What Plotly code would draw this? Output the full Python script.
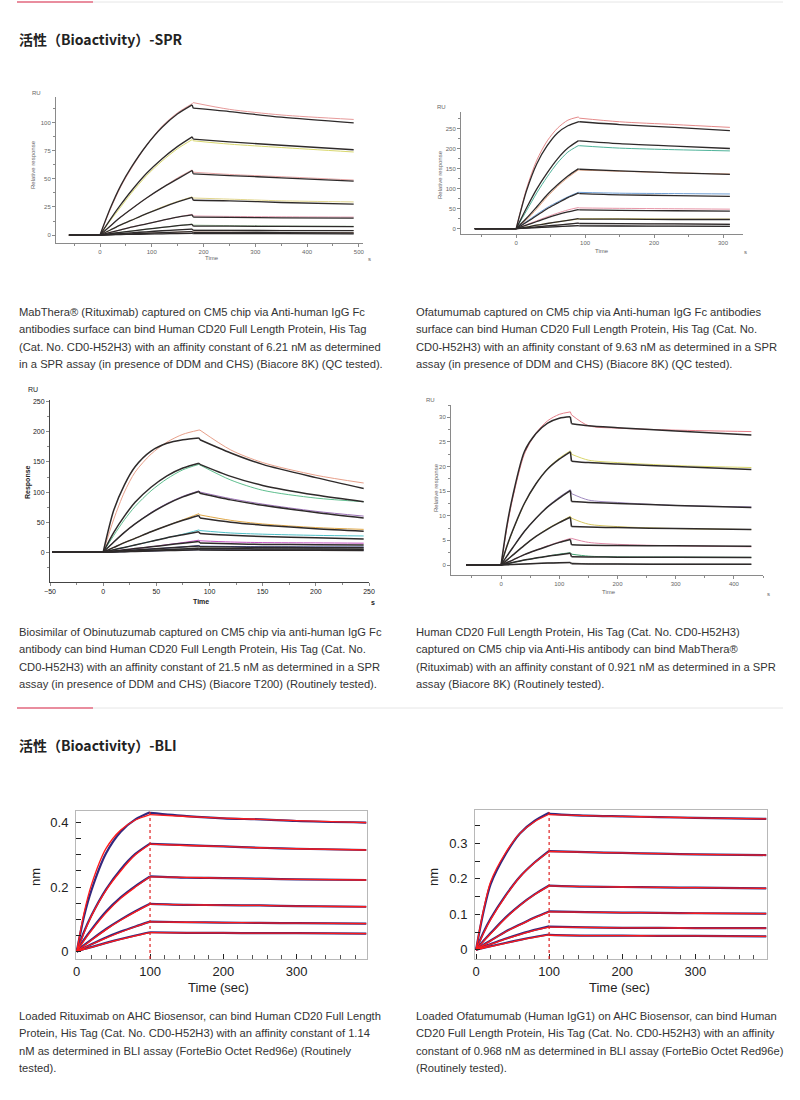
import plotly.graph_objects as go

# ---------------- DATA ----------------
# Panel 1: SPR, MabThera (Rituximab) / CD20 (RU vs s)
P1_BASE_T = [-60, 0]
P1_ASSOC_T = [0, 20, 40, 60, 90, 120, 150, 178]
P1_DISSOC_T = [180, 250, 350, 490]
P1_FIT_ASSOC = [
    [0, 24, 44, 60, 80, 96, 108, 116],
    [0, 14, 27, 39, 55, 68, 79, 87.5],
    [0, 8, 16, 23, 33, 42, 50, 57.5],
    [0, 4.5, 9, 13, 19, 24.5, 29.5, 33.5],
    [0, 2.3, 4.6, 7, 10, 13, 16, 18],
    [0, 1.2, 2.4, 3.5, 5.2, 6.8, 8.3, 9.5],
    [0, 0.6, 1.3, 2, 2.9, 3.8, 4.6, 5.3],
    [0, 0.35, 0.7, 1.1, 1.6, 2.1, 2.6, 3],
    [0, 0.2, 0.4, 0.6, 0.8, 1.1, 1.3, 1.5],
]
P1_FIT_DISSOC = [
    [113, 110, 105, 100],
    [85.5, 83, 80, 76],
    [54.5, 53, 51, 48],
    [31, 30.5, 29, 27.5],
    [16, 15.8, 15.3, 15],
    [8, 7.9, 7.7, 7.5],
    [4.2, 4.1, 4, 3.9],
    [2.4, 2.3, 2.2, 2],
    [1.3, 1.25, 1.2, 1.1],
]
P1_DATA_ASSOC = [
    [0, 23, 43, 59, 80, 97, 109, 117],
    [0, 13, 25, 37, 53, 66, 77, 85],
    [0, 8, 16, 23, 33, 42, 51, 58],
    [0, 4.5, 9, 13, 19, 25, 30, 34],
    [0, 2.3, 4.6, 7, 10, 13, 16, 18.5],
    [0, 1.2, 2.4, 3.5, 5.2, 6.8, 8.3, 9.8],
    [0, 0.6, 1.3, 2, 2.9, 3.8, 4.6, 5.5],
    [0, 0.35, 0.7, 1.1, 1.6, 2.1, 2.6, 3.2],
    [0, 0.2, 0.4, 0.6, 0.8, 1.1, 1.3, 1.6],
]
P1_DATA_DISSOC = [
    [118, 112, 107, 103],
    [84, 81, 78, 74],
    [56, 54, 52, 49],
    [33, 32, 30.5, 29.5],
    [17, 16.6, 16.3, 16],
    [8.8, 8.4, 8, 7.8],
    [4.6, 4.4, 4.2, 4.1],
    [2.7, 2.5, 2.3, 2.2],
    [1.4, 1.3, 1.25, 1.2],
]
P1_DATA_COLORS = ["#e79a9a", "#d9d86e", "#e6a5a5", "#e2d68c", "#e6a0b4",
                  "#9cc49c", "#c8c8c8", "#d6b09c", "#b4b4b4"]

# Panel 2: SPR, Ofatumumab / CD20
P2_BASE_T = [-60, 0]
P2_ASSOC_T = [0, 15, 30, 45, 60, 75, 90]
P2_DISSOC_T = [92, 150, 230, 310]
P2_FIT_ASSOC = [
    [0, 95, 163, 208, 240, 258, 268],
    [0, 52, 100, 140, 175, 202, 220],
    [0, 26, 55, 85, 110, 132, 150],
    [0, 16, 33, 50, 64, 78, 89],
    [0, 9, 18, 27, 35, 42, 48],
    [0, 4, 9, 13, 17, 21, 25],
    [0, 2.3, 4.5, 7, 9, 11.5, 14],
    [0, 1.2, 2.5, 3.7, 5, 6.2, 7.5],
]
P2_FIT_DISSOC = [
    [268, 261, 254, 246],
    [220, 213, 207, 201],
    [149, 145, 140, 136],
    [88, 85, 83, 81],
    [47, 46, 45, 44],
    [24, 24, 23, 23],
    [13, 12.5, 12, 11],
    [7, 6.7, 6.3, 6],
]
P2_DATA_ASSOC = [
    [0, 100, 172, 220, 252, 272, 280],
    [0, 45, 90, 130, 165, 192, 208],
    [0, 22, 50, 80, 106, 128, 147],
    [0, 18, 36, 53, 67, 80, 91],
    [0, 10, 20, 30, 39, 47, 53],
    [0, 4, 9, 13, 17, 21, 24],
    [0, 2.3, 4.5, 7, 9, 11.5, 14],
    [0, 1.2, 2.5, 3.7, 5, 6.2, 7.5],
]
P2_DATA_DISSOC = [
    [277, 268, 261, 254],
    [208, 202, 198, 195],
    [147, 144, 140, 137],
    [91, 89, 88, 87],
    [52, 51, 50, 49],
    [25, 25, 24, 24],
    [13, 12.5, 12, 11.5],
    [7, 6.7, 6.4, 6.2],
]
P2_DATA_COLORS = ["#e58a8a", "#4fb39a", "#e6a582", "#6f9fd6", "#e896a8",
                  "#dfd06a", "#b0a0a0", "#a0a0a0"]

# Panel 3: SPR, Biosimilar of Obinutuzumab / CD20 (Biacore T200)
P3_BASE_T = [-48, 0]
P3_ASSOC_T = [0, 10, 20, 30, 45, 60, 75, 90]
P3_DISSOC_T = [91, 120, 150, 200, 245]
P3_FIT_ASSOC = [
    [0, 70, 112, 142, 168, 181, 187, 190],
    [0, 33, 60, 83, 108, 127, 140, 148],
    [0, 17, 33, 47, 65, 80, 92, 101],
    [0, 8, 16, 23, 34, 44, 53, 61],
    [0, 4, 8, 12, 18, 24, 29, 34],
    [0, 2, 4, 6, 9, 12, 15, 17.7],
    [0, 1.2, 2.4, 3.5, 5.2, 7, 8.8, 10.5],
    [0, 0.7, 1.4, 2.1, 3.2, 4.3, 5.5, 6.6],
    [0, 0.4, 0.9, 1.3, 2, 2.7, 3.3, 4],
]
P3_FIT_DISSOC = [
    [187, 165, 146, 124, 106],
    [146, 126, 111, 95, 84],
    [98, 87, 78, 66, 57],
    [57, 50, 45, 39, 35],
    [31, 28, 26, 24, 22],
    [15.5, 14, 13, 12.5, 12],
    [9, 8.5, 8.2, 8, 7.7],
    [6, 5.7, 5.5, 5.2, 5],
    [3.6, 3.4, 3.2, 3.1, 3],
]
P3_DATA_ASSOC = [
    [0, 55, 100, 133, 163, 183, 196, 203],
    [0, 28, 54, 76, 102, 122, 137, 146],
    [0, 17, 33, 47, 66, 81, 93, 102],
    [0, 8, 16, 23, 34, 44, 54, 64],
    [0, 4, 8, 12, 18, 24, 30, 37],
    [0, 2, 4, 6, 9, 12.5, 16, 20],
    [0, 1.2, 2.4, 3.5, 5.2, 7, 8.8, 11],
    [0, 0.7, 1.4, 2.1, 3.2, 4.3, 5.5, 7],
    [0, 0.4, 0.9, 1.3, 2, 2.7, 3.3, 4.2],
]
P3_DATA_DISSOC = [
    [203, 170, 149, 128, 115],
    [145, 120, 103, 90, 84],
    [100, 89, 80, 68, 60],
    [62, 53, 47, 41, 38],
    [36, 32, 30, 28, 27],
    [19, 17, 16, 15.5, 15],
    [10, 9.5, 9, 8.7, 8.5],
    [6.5, 6.2, 6, 5.8, 5.6],
    [4, 3.8, 3.6, 3.5, 3.4],
]
P3_DATA_COLORS = ["#e8a08a", "#5fbf8f", "#9a6fb5", "#e0a848", "#4fc0c8",
                  "#c050c0", "#4050c0", "#808890", "#303880"]

# Panel 4: SPR, CD20 His captured, MabThera (Rituximab) binding
P4_BASE_T = [-60, 0]
P4_ASSOC_T = [0, 10, 20, 40, 60, 80, 100, 119]
P4_DISSOC_T = [121, 150, 200, 300, 430]
P4_FIT_ASSOC = [
    [0, 8, 14, 23, 26.7, 28.8, 29.8, 30.1],
    [0, 3.8, 7, 12.5, 16.5, 19.5, 21.5, 23],
    [0, 1.8, 3.5, 6.8, 9.5, 11.8, 13.6, 15.1],
    [0, 1, 2, 4, 5.8, 7.3, 8.6, 9.7],
    [0, 0.5, 1, 2.1, 3, 3.8, 4.6, 5.2],
    [0, 0.25, 0.5, 1, 1.4, 1.8, 2.1, 2.4],
    [0, 0.05, 0.1, 0.2, 0.3, 0.4, 0.45, 0.5],
]
P4_FIT_DISSOC = [
    [28.7, 28.3, 27.9, 27.2, 26.4],
    [21.1, 20.8, 20.5, 20, 19.4],
    [12.9, 12.7, 12.5, 12.1, 11.7],
    [7.8, 7.7, 7.6, 7.4, 7.2],
    [4.1, 4.0, 3.95, 3.9, 3.8],
    [1.7, 1.65, 1.6, 1.55, 1.5],
    [0.25, 0.2, 0.18, 0.15, 0.15],
]
P4_DATA_ASSOC = [
    [0, 7.5, 13.5, 22.5, 26.8, 29.3, 30.6, 31.1],
    [0, 3.7, 6.9, 12.4, 16.5, 19.6, 21.7, 23.2],
    [0, 1.8, 3.5, 6.8, 9.5, 11.9, 13.8, 15.3],
    [0, 1, 2, 4, 5.8, 7.4, 8.7, 9.9],
    [0, 0.5, 1, 2.1, 3, 3.9, 4.7, 5.4],
    [0, 0.25, 0.5, 1, 1.4, 1.8, 2.2, 2.5],
    [0, 0.05, 0.1, 0.2, 0.3, 0.4, 0.45, 0.5],
]
P4_DATA_DISSOC = [
    [30.5, 28.3, 27.8, 27.4, 27.1],
    [22.5, 21.3, 20.8, 20.2, 19.8],
    [14.5, 13.2, 12.7, 12.1, 11.8],
    [9.5, 8.3, 7.8, 7.4, 7.2],
    [5.4, 4.6, 4.2, 3.9, 3.7],
    [2.2, 1.8, 1.65, 1.6, 1.55],
    [0.4, 0.25, 0.2, 0.18, 0.15],
]
P4_DATA_COLORS = ["#e67f8a", "#d9d66a", "#a08ac0", "#d8c860", "#e08aa8",
                  "#3f9f6f", "#808080"]

# Panel 5: BLI, Rituximab on AHC / CD20 (nm vs sec)
P5_ASSOC_T = [0, 10, 20, 40, 60, 80, 100]
P5_DISSOC_T = [100, 150, 200, 250, 300, 395]
P5_FIT_ASSOC = [
    [0, 0.12, 0.207, 0.32, 0.377, 0.408, 0.425],
    [0, 0.058, 0.11, 0.19, 0.25, 0.30, 0.333],
    [0, 0.034, 0.065, 0.12, 0.165, 0.20, 0.232],
    [0, 0.018, 0.035, 0.068, 0.097, 0.123, 0.147],
    [0, 0.011, 0.022, 0.042, 0.06, 0.077, 0.092],
    [0, 0.007, 0.013, 0.026, 0.038, 0.049, 0.059],
]
P5_FIT_DISSOC = [
    [0.425, 0.419, 0.414, 0.410, 0.406, 0.400],
    [0.333, 0.329, 0.326, 0.322, 0.319, 0.315],
    [0.232, 0.230, 0.228, 0.226, 0.224, 0.222],
    [0.147, 0.145, 0.144, 0.143, 0.141, 0.139],
    [0.092, 0.091, 0.090, 0.089, 0.088, 0.087],
    [0.059, 0.058, 0.058, 0.057, 0.057, 0.056],
]
P5_DATA_ASSOC = [
    [0, 0.11, 0.19, 0.305, 0.372, 0.41, 0.432],
    [0, 0.062, 0.112, 0.193, 0.255, 0.303, 0.335],
    [0, 0.037, 0.068, 0.124, 0.168, 0.203, 0.233],
    [0, 0.02, 0.037, 0.07, 0.099, 0.125, 0.148],
    [0, 0.012, 0.023, 0.044, 0.062, 0.078, 0.093],
    [0, 0.008, 0.014, 0.027, 0.039, 0.05, 0.06],
]
P5_DATA_DISSOC = [
    [0.43, 0.42, 0.413, 0.41, 0.405, 0.40],
    [0.334, 0.330, 0.326, 0.322, 0.319, 0.315],
    [0.233, 0.229, 0.228, 0.226, 0.224, 0.222],
    [0.148, 0.145, 0.144, 0.143, 0.141, 0.139],
    [0.093, 0.091, 0.090, 0.089, 0.088, 0.087],
    [0.06, 0.058, 0.058, 0.057, 0.057, 0.056],
]

# Panel 6: BLI, Ofatumumab on AHC / CD20
P6_ASSOC_T = [0, 10, 20, 40, 60, 80, 100]
P6_DISSOC_T = [100, 150, 200, 250, 300, 397]
P6_FIT_ASSOC = [
    [0, 0.11, 0.192, 0.272, 0.328, 0.361, 0.382],
    [0, 0.045, 0.085, 0.15, 0.205, 0.245, 0.277],
    [0, 0.023, 0.045, 0.088, 0.125, 0.155, 0.18],
    [0, 0.013, 0.025, 0.05, 0.07, 0.09, 0.107],
    [0, 0.008, 0.015, 0.03, 0.043, 0.055, 0.064],
    [0, 0.005, 0.009, 0.018, 0.027, 0.035, 0.042],
]
P6_FIT_DISSOC = [
    [0.381, 0.378, 0.376, 0.374, 0.372, 0.369],
    [0.277, 0.275, 0.273, 0.271, 0.269, 0.267],
    [0.18, 0.178, 0.177, 0.176, 0.175, 0.173],
    [0.107, 0.106, 0.105, 0.104, 0.103, 0.102],
    [0.064, 0.063, 0.062, 0.062, 0.061, 0.061],
    [0.041, 0.040, 0.040, 0.039, 0.039, 0.038],
]
P6_DATA_ASSOC = [
    [0, 0.105, 0.185, 0.268, 0.328, 0.363, 0.386],
    [0, 0.048, 0.088, 0.152, 0.206, 0.246, 0.279],
    [0, 0.025, 0.047, 0.09, 0.126, 0.156, 0.181],
    [0, 0.014, 0.026, 0.051, 0.071, 0.091, 0.108],
    [0, 0.009, 0.016, 0.031, 0.044, 0.056, 0.066],
    [0, 0.005, 0.01, 0.019, 0.028, 0.036, 0.043],
]
P6_DATA_DISSOC = [
    [0.383, 0.378, 0.376, 0.374, 0.372, 0.369],
    [0.278, 0.275, 0.273, 0.271, 0.269, 0.267],
    [0.181, 0.178, 0.177, 0.176, 0.175, 0.173],
    [0.108, 0.106, 0.105, 0.104, 0.103, 0.102],
    [0.065, 0.063, 0.062, 0.062, 0.061, 0.061],
    [0.042, 0.040, 0.040, 0.039, 0.039, 0.038],
]

TITLE_SPR = "活性（Bioactivity）-SPR"
TITLE_BLI = "活性（Bioactivity）-BLI"

CAPTIONS = {
    "p1": ["MabThera® (Rituximab) captured on CM5 chip via Anti-human IgG Fc",
           "antibodies surface can bind Human CD20 Full Length Protein, His Tag",
           "(Cat. No. CD0-H52H3) with an affinity constant of 6.21 nM as determined",
           "in a SPR assay (in presence of DDM and CHS) (Biacore 8K) (QC tested)."],
    "p2": ["Ofatumumab captured on CM5 chip via Anti-human IgG Fc antibodies",
           "surface can bind Human CD20 Full Length Protein, His Tag (Cat. No.",
           "CD0-H52H3) with an affinity constant of 9.63 nM as determined in a SPR",
           "assay (in presence of DDM and CHS) (Biacore 8K) (QC tested)."],
    "p3": ["Biosimilar of Obinutuzumab captured on CM5 chip via anti-human IgG Fc",
           "antibody can bind Human CD20 Full Length Protein, His Tag (Cat. No.",
           "CD0-H52H3) with an affinity constant of 21.5 nM as determined in a SPR",
           "assay (in presence of DDM and CHS) (Biacore T200) (Routinely tested)."],
    "p4": ["Human CD20 Full Length Protein, His Tag (Cat. No. CD0-H52H3)",
           "captured on CM5 chip via Anti-His antibody can bind MabThera®",
           "(Rituximab) with an affinity constant of 0.921 nM as determined in a SPR",
           "assay (Biacore 8K) (Routinely tested)."],
    "p5": ["Loaded Rituximab on AHC Biosensor, can bind Human CD20 Full Length",
           "Protein, His Tag (Cat. No. CD0-H52H3) with an affinity constant of 1.14",
           "nM as determined in BLI assay (ForteBio Octet Red96e) (Routinely",
           "tested)."],
    "p6": ["Loaded Ofatumumab (Human IgG1) on AHC Biosensor, can bind Human",
           "CD20 Full Length Protein, His Tag (Cat. No. CD0-H52H3) with an affinity",
           "constant of 0.968 nM as determined in BLI assay (ForteBio Octet Red96e)",
           "(Routinely tested)."],
}

# ---------------- LAYOUT HELPERS ----------------
W, H = 800, 1100


def px(x):
    return x / W


def py(y):
    return 1 - y / H


fig = go.Figure()


def seg_xy(segments_t, segments_v):
    xs, ys = [], []
    for i, (t, v) in enumerate(zip(segments_t, segments_v)):
        if i > 0:
            xs.append(None)
            ys.append(None)
        xs += list(t)
        ys += list(v)
    return xs, ys


def add_curve(xa, ya, base_t, assoc_t, dissoc_t, a, d, color, width):
    # association and dissociation phases: smooth
    xs, ys = seg_xy([assoc_t, dissoc_t], [a, d])
    fig.add_trace(go.Scatter(x=xs, y=ys, mode="lines", xaxis=xa, yaxis=ya,
                             line=dict(color=color, width=width, shape="spline", smoothing=0.8),
                             hoverinfo="skip"))
    # baseline and the jump at the start of dissociation: straight
    segs_t, segs_v = [], []
    if base_t is not None:
        segs_t.append(base_t)
        segs_v.append([a[0], a[0]])
    segs_t.append([assoc_t[-1], dissoc_t[0]])
    segs_v.append([a[-1], d[0]])
    xs, ys = seg_xy(segs_t, segs_v)
    fig.add_trace(go.Scatter(x=xs, y=ys, mode="lines", xaxis=xa, yaxis=ya,
                             line=dict(color=color, width=width), hoverinfo="skip"))


def add_spr(idx, base_t, assoc_t, dissoc_t, fit_a, fit_d, dat_a, dat_d, colors, fitw=1.3):
    xa = "x" if idx == 1 else f"x{idx}"
    ya = "y" if idx == 1 else f"y{idx}"
    for a, d, c in zip(dat_a, dat_d, colors):
        add_curve(xa, ya, base_t, assoc_t, dissoc_t, a, d, c, 1)
    for a, d in zip(fit_a, fit_d):
        add_curve(xa, ya, base_t, assoc_t, dissoc_t, a, d, "#2e2a2a", fitw)


def add_bli(idx, assoc_t, dissoc_t, fit_a, fit_d, dat_a, dat_d):
    xa, ya = f"x{idx}", f"y{idx}"
    for a, d in zip(dat_a, dat_d):
        add_curve(xa, ya, None, assoc_t, dissoc_t, a, d, "#33287e", 2.2)
    for a, d in zip(fit_a, fit_d):
        add_curve(xa, ya, None, assoc_t, dissoc_t, a, d, "#ff1a1a", 1.3)


add_spr(1, P1_BASE_T, P1_ASSOC_T, P1_DISSOC_T, P1_FIT_ASSOC, P1_FIT_DISSOC,
        P1_DATA_ASSOC, P1_DATA_DISSOC, P1_DATA_COLORS)
add_spr(2, P2_BASE_T, P2_ASSOC_T, P2_DISSOC_T, P2_FIT_ASSOC, P2_FIT_DISSOC,
        P2_DATA_ASSOC, P2_DATA_DISSOC, P2_DATA_COLORS)
add_spr(3, P3_BASE_T, P3_ASSOC_T, P3_DISSOC_T, P3_FIT_ASSOC, P3_FIT_DISSOC,
        P3_DATA_ASSOC, P3_DATA_DISSOC, P3_DATA_COLORS, fitw=1.5)
add_spr(4, P4_BASE_T, P4_ASSOC_T, P4_DISSOC_T, P4_FIT_ASSOC, P4_FIT_DISSOC,
        P4_DATA_ASSOC, P4_DATA_DISSOC, P4_DATA_COLORS, fitw=1.5)
add_bli(5, P5_ASSOC_T, P5_DISSOC_T, P5_FIT_ASSOC, P5_FIT_DISSOC, P5_DATA_ASSOC, P5_DATA_DISSOC)
add_bli(6, P6_ASSOC_T, P6_DISSOC_T, P6_FIT_ASSOC, P6_FIT_DISSOC, P6_DATA_ASSOC, P6_DATA_DISSOC)

# ---------------- AXES ----------------
SPR_FONT = "Liberation Sans, Arial, sans-serif"


def spr_axes(xdom, ydom, xr, yr, xdt, ydt, xminor, yminor, color, size):
    common = dict(showline=True, linecolor="#8a8a8a", linewidth=1, showgrid=False,
                  zeroline=False, ticks="outside", ticklen=3, tickcolor="#8a8a8a",
                  automargin=False,
                  tickfont=dict(size=size, color=color, family=SPR_FONT))
    xa = dict(common, domain=[px(xdom[0]), px(xdom[1])], range=xr, dtick=xdt, tick0=0,
              minor=dict(dtick=xminor, ticklen=2, ticks="outside", tickcolor="#8a8a8a"))
    ya = dict(common, domain=[py(ydom[1]), py(ydom[0])], range=yr, dtick=ydt, tick0=0,
              minor=dict(dtick=yminor, ticklen=2, ticks="outside", tickcolor="#8a8a8a"))
    return xa, ya


def bli_axes(xdom, ydom, xr, yr, ydt, yminor):
    common = dict(showline=True, mirror=True, linecolor="#b8b8b8", linewidth=1, showgrid=False,
                  zeroline=False, ticks="inside", ticklen=5, tickcolor="#222",
                  automargin=False,
                  tickfont=dict(size=13, color="#222", family=SPR_FONT))
    xa = dict(common, domain=[px(xdom[0]), px(xdom[1])], range=xr, dtick=100, tick0=0,
              minor=dict(dtick=20, ticklen=4, ticks="inside", tickcolor="#555"))
    ya = dict(common, domain=[py(ydom[1]), py(ydom[0])], range=yr, dtick=ydt, tick0=0,
              minor=dict(dtick=yminor, ticklen=5, ticks="inside", tickcolor="#222"),
              ticklabelstandoff=4)
    return xa, ya


x1, y1 = spr_axes((56, 363), (97, 243), [-85, 508], [-7.1, 123], 100, 25, 50, 12.5, "#666", 6)
x2, y2 = spr_axes((461, 743), (112, 234), [-80, 329], [-13.3, 292.5], 100, 50, 50, 25, "#666", 6)
x3, y3 = spr_axes((50, 369), (400, 582), [-50, 250], [-49.5, 253], 50, 50, 25, 25, "#222", 7)
x4, y4 = spr_axes((451, 763), (405, 575), [-86, 450], [-2.03, 32.5], 100, 5, 50, 2.5, "#666", 6)
x3["linecolor"] = "#444"
y3["linecolor"] = "#444"
x5, y5 = bli_axes((76, 367), (811, 959), [-1, 396], [-0.023, 0.436], 0.2, 0.05)
x6, y6 = bli_axes((475, 767), (810, 959), [-1.4, 398], [-0.026, 0.394], 0.1, 0.05)

fig.update_layout(
    xaxis=dict(x1, anchor="y"), yaxis=dict(y1, anchor="x"),
    xaxis2=dict(x2, anchor="y2"), yaxis2=dict(y2, anchor="x2"),
    xaxis3=dict(x3, anchor="y3"), yaxis3=dict(y3, anchor="x3"),
    xaxis4=dict(x4, anchor="y4"), yaxis4=dict(y4, anchor="x4"),
    xaxis5=dict(x5, anchor="y5"), yaxis5=dict(y5, anchor="x5"),
    xaxis6=dict(x6, anchor="y6"), yaxis6=dict(y6, anchor="x6"),
)

# ---------------- SHAPES ----------------
shapes = []
for yy in (2, 708):
    shapes.append(dict(type="line", xref="paper", yref="paper", x0=px(93), x1=px(783),
                       y0=py(yy), y1=py(yy), line=dict(color="#e6e6e6", width=1)))
    shapes.append(dict(type="line", xref="paper", yref="paper", x0=px(17), x1=px(93),
                       y0=py(yy), y1=py(yy), line=dict(color="#e2677e", width=1.5)))
for idx in (5, 6):
    shapes.append(dict(type="line", xref=f"x{idx}", yref=f"y{idx} domain", x0=100, x1=100,
                       y0=0, y1=1, line=dict(color="#e02020", width=1.2, dash="dot")))
fig.update_layout(shapes=shapes)

# ---------------- ANNOTATIONS ----------------
ann = []


def text(x, y, s, size, color="#333", bold=False, angle=0, xanchor="center", family=SPR_FONT):
    ann.append(dict(xref="paper", yref="paper", x=px(x), y=py(y), text=f"<b>{s}</b>" if bold else s,
                    showarrow=False, xanchor=xanchor, yanchor="middle", textangle=angle,
                    font=dict(size=size, color=color, family=family)))


CJK = "Noto Sans CJK SC, Noto Sans, sans-serif"
text(17, 39, TITLE_SPR, 14, "#222", bold=True, xanchor="left", family=CJK)
text(17, 745, TITLE_BLI, 14, "#222", bold=True, xanchor="left", family=CJK)

# SPR axis labels
text(36, 93, "RU", 6, "#666")
text(33, 165, "Relative response", 6, "#666", angle=-90)
text(212, 258, "Time", 6, "#666")
text(369, 259, "s", 6, "#666")

text(441, 107, "RU", 6, "#666")
text(440, 175, "Relative response", 6, "#666", angle=-90)
text(602, 251, "Time", 6, "#666")
text(745, 252, "s", 6, "#666")

text(33, 390, "RU", 7, "#222")
text(28, 482, "Response", 7, "#222", bold=True, angle=-90)
text(201, 601, "Time", 7, "#222", bold=True)
text(373, 602, "s", 7, "#222", bold=True)

text(430, 400, "RU", 6, "#666")
text(436, 488, "Relative response", 6, "#666", angle=-90)
text(609, 592, "Time", 6, "#666")
text(768, 594, "s", 6, "#666")

# BLI axis labels
text(35, 877, "nm", 13, "#222", angle=-90)
text(218, 987, "Time (sec)", 13, "#222")
text(433, 877, "nm", 13, "#222", angle=-90)
text(619, 987, "Time (sec)", 13, "#222")

# captions
rows = {"p1": (17, 312), "p2": (414, 312), "p3": (17, 632), "p4": (414, 632),
        "p5": (17, 1016), "p6": (414, 1016)}
for key, (x0, y0) in rows.items():
    for i, line in enumerate(CAPTIONS[key]):
        text(x0, y0 + i * 17.4, line, 11.2, "#333", xanchor="left")

fig.update_layout(annotations=ann)

fig.update_layout(width=W, height=H, margin=dict(l=0, r=0, t=0, b=0, autoexpand=False),
                  paper_bgcolor="white", plot_bgcolor="white", showlegend=False)

fig.write_html("out.html", config={"displayModeBar": False},
               post_script="document.body.style.margin='0';")
